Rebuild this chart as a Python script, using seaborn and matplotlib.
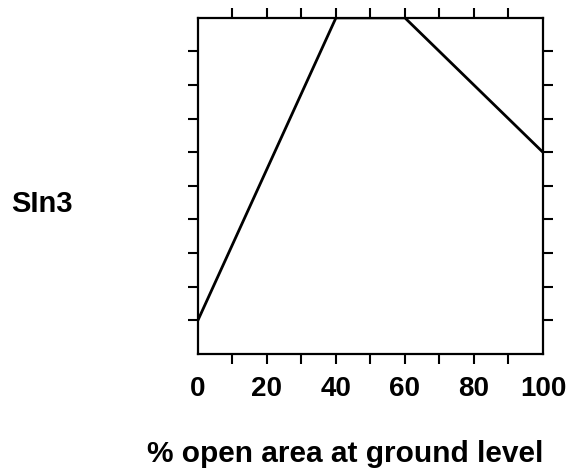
import pandas as pd
import matplotlib
matplotlib.use("Agg")
import matplotlib.pyplot as plt
import seaborn as sns

# data
open_area = [0, 40, 60, 100]
sln3 = [0.1, 1.0, 1.0, 0.6]
xtick_labels = [0, 20, 40, 60, 80, 100]
xtick_marks = [10, 20, 30, 40, 50, 60, 70, 80, 90]
ytick_marks = [0.1, 0.2, 0.3, 0.4, 0.5, 0.6, 0.7, 0.8, 0.9]

df = pd.DataFrame({"open_area": open_area, "sln3": sln3})

sns.set_style("ticks")
plt.rcParams["font.family"] = ["Liberation Sans", "DejaVu Sans"]
plt.rcParams["text.color"] = "black"
plt.rcParams["xtick.color"] = "black"
plt.rcParams["ytick.color"] = "black"
plt.rcParams["axes.labelcolor"] = "black"

fig = plt.figure(figsize=(5.77, 4.70), dpi=100)
ax = fig.add_axes([0.343, 0.247, 0.598, 0.715])

sns.lineplot(data=df, x="open_area", y="sln3", color="black", linewidth=2, ax=ax)

ax.set_xlim(0, 100)
ax.set_ylim(0, 1)

# labelled ticks (no marks)
ax.set_xticks(xtick_labels)
ax.set_xticklabels([str(v) for v in xtick_labels], fontsize=20, fontweight="bold")
ax.tick_params(axis="x", which="major", length=0, pad=16)
ax.set_yticks([])

# tick marks on all four sides
ax.xaxis.remove_overlapping_locs = False
ax.set_xticks(xtick_marks, minor=True)
ax.set_yticks(ytick_marks, minor=True)
ax.tick_params(which="minor", direction="out", length=7, width=1.5, color="black",
               top=True, bottom=True, left=True, right=True)

for s in ax.spines.values():
    s.set_visible(True)
    s.set_linewidth(1.6)
    s.set_color("black")

ax.set_xlabel("% open area at ground level", fontsize=21.5, fontweight="bold")
ax.xaxis.set_label_coords(0.428, -0.256)
ax.set_ylabel("SIn3", fontsize=21, fontweight="bold", rotation=0, va="center", ha="center")
ax.yaxis.set_label_coords(-0.452, 0.446)

fig.savefig("out.png", dpi=100)
